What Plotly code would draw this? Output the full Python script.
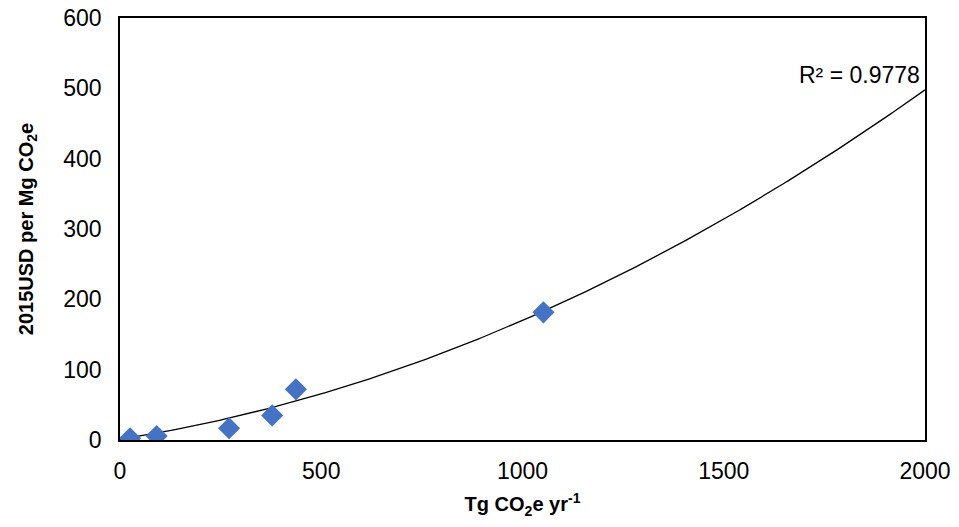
import numpy as np
import plotly.graph_objects as go

emissions = [25, 91, 271, 378, 437, 1052]
cost = [2.4, 5.7, 16.6, 35, 72, 181.5]
# second-order polynomial trendline coefficients (a*x^2 + b*x + c)
trend_coef = [7.95e-5, 0.0894, 1.0]
r2_label = "R² = 0.9778"

xs = np.linspace(0, 2000, 300)
ys = np.polyval(trend_coef, xs)

FONT = "Liberation Sans, Arial"
fig = go.Figure()
fig.add_trace(go.Scatter(x=xs, y=ys, mode="lines", line=dict(color="black", width=1.3), hoverinfo="skip", showlegend=False))
fig.add_trace(go.Scatter(x=emissions, y=cost, mode="markers",
                         marker=dict(symbol="diamond", size=17, color="#4472C4"), showlegend=False))

fig.add_annotation(x=1993, y=519, text=r2_label, showarrow=False, xanchor="right", yanchor="middle",
                   font=dict(size=23, color="black", family=FONT))

axis_common = dict(showline=True, linecolor="black", linewidth=1.5, mirror=True, showgrid=False,
                   zeroline=False, ticks="", tickfont=dict(size=23, color="black", family=FONT))
fig.update_xaxes(range=[0, 2000], tickvals=[0, 500, 1000, 1500, 2000], ticklabelstandoff=10,
                 title=dict(text="<b>Tg CO<sub>2</sub>e yr<sup>-1</sup></b>", font=dict(size=20, color="black", family=FONT), standoff=14),
                 **axis_common)
fig.update_yaxes(range=[0, 600], tickvals=[0, 100, 200, 300, 400, 500, 600], ticklabelstandoff=12,
                 title=dict(text="<b>2015USD per Mg CO<sub>2</sub>e</b>", font=dict(size=20, color="black", family=FONT), standoff=24),
                 **axis_common)
fig.update_layout(width=959, height=527, margin=dict(l=120, r=34, t=18, b=87, autoexpand=False),
                  plot_bgcolor="white", paper_bgcolor="white")
fig.write_html("out.html")
